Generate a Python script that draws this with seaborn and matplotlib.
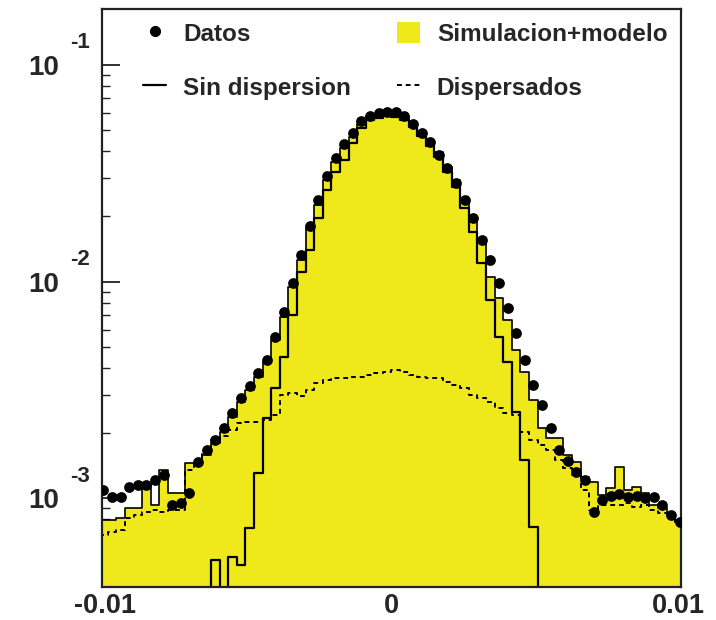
import numpy as np
import pandas as pd
import matplotlib
matplotlib.use("Agg")
import matplotlib.pyplot as plt
import seaborn as sns
from matplotlib.lines import Line2D
from matplotlib.patches import Patch
from matplotlib.ticker import FixedLocator, LogLocator, NullFormatter, FuncFormatter

# ---------------- data ----------------
bin_width = 0.0003
n_bins = 68
x_start = -0.0102
bin_edges = [x_start + bin_width * i for i in range(n_bins + 1)]
bin_centers = [0.5 * (bin_edges[i] + bin_edges[i + 1]) for i in range(n_bins)]

datos = [1.093e-3, 1.015e-3, 1.015e-3, 1.129e-3, 1.153e-3, 1.153e-3, 1.216e-3, 1.282e-3,
         9.32e-4, 9.52e-4, 1.059e-3, 1.472e-3, 1.672e-3, 1.860e-3, 2.113e-3, 2.478e-3,
         2.906e-3, 3.301e-3, 3.790e-3, 4.352e-3, 5.556e-3, 7.248e-3, 9.863e-3, 1.327e-2,
         1.807e-2, 2.382e-2, 3.074e-2, 3.722e-2, 4.319e-2, 4.855e-2, 5.513e-2, 5.815e-2,
         6.003e-2, 6.067e-2, 6.067e-2, 5.815e-2, 5.340e-2, 4.855e-2, 4.412e-2, 3.843e-2,
         3.347e-2, 2.854e-2, 2.382e-2, 1.968e-2, 1.558e-2, 1.259e-2, 9.863e-3, 7.562e-3,
         5.798e-3, 4.352e-3, 3.336e-3, 2.698e-3, 2.113e-3, 1.672e-3, 1.488e-3, 1.323e-3,
         1.216e-3, 8.65e-4, 9.83e-4, 1.026e-3, 1.048e-3, 1.015e-3, 1.026e-3, 1.004e-3,
         1.015e-3, 9.32e-4, 8.38e-4, 7.78e-4]

simulacion = [7.95e-4, 7.95e-4, 8.12e-4, 9.03e-4, 9.03e-4, 1.165e-3, 9.32e-4, 1.352e-3,
              1.059e-3, 1.059e-3, 1.457e-3, 1.426e-3, 1.586e-3, 1.801e-3, 2.025e-3, 2.374e-3,
              2.784e-3, 3.164e-3, 3.632e-3, 4.260e-3, 5.383e-3, 6.873e-3, 9.45e-3, 1.259e-2,
              1.769e-2, 2.259e-2, 2.946e-2, 3.567e-2, 4.140e-2, 4.654e-2, 5.340e-2, 5.754e-2,
              5.878e-2, 6.003e-2, 5.940e-2, 5.754e-2, 5.400e-2, 4.907e-2, 4.459e-2, 3.967e-2,
              3.383e-2, 2.946e-2, 2.332e-2, 1.886e-2, 1.509e-2, 1.051e-2, 8.41e-3, 6.657e-3,
              4.838e-3, 3.830e-3, 2.845e-3, 2.113e-3, 1.900e-3, 1.900e-3, 1.586e-3, 1.472e-3,
              1.255e-3, 1.190e-3, 1.037e-3, 1.117e-3, 1.396e-3, 1.093e-3, 1.129e-3, 1.059e-3,
              9.32e-4, 9.03e-4, 8.56e-4, 7.95e-4]

sin_dispersion = [0, 0, 0, 0, 0, 0, 0, 0, 0, 0, 0, 0, 0, 5.20e-4, 0, 5.36e-4,
                  4.93e-4, 7.30e-4, 1.310e-3, 2.350e-3, 3.233e-3, 4.493e-3, 7.02e-3, 1.108e-2,
                  1.400e-2, 1.968e-2, 2.650e-2, 3.207e-2, 3.644e-2, 4.366e-2, 5.120e-2, 5.572e-2,
                  5.691e-2, 5.815e-2, 5.754e-2, 5.572e-2, 5.174e-2, 4.704e-2, 4.228e-2, 3.762e-2,
                  3.207e-2, 2.735e-2, 2.188e-2, 1.696e-2, 1.220e-2, 8.23e-3, 5.556e-3, 4.260e-3,
                  2.504e-3, 1.504e-3, 7.38e-4, 0, 0, 0, 0, 0, 0, 0, 0, 0, 0, 0, 0, 0, 0, 0, 0, 0]

dispersados = [6.78e-4, 7.00e-4, 7.15e-4, 8.12e-4, 8.38e-4, 8.65e-4, 8.84e-4, 8.65e-4,
               8.84e-4, 8.84e-4, 1.352e-3, 1.504e-3, 1.637e-3, 1.860e-3, 1.941e-3, 2.068e-3,
               2.228e-3, 2.252e-3, 2.252e-3, 2.300e-3, 2.426e-3, 3.000e-3, 3.064e-3, 2.969e-3,
               3.164e-3, 3.408e-3, 3.518e-3, 3.594e-3, 3.594e-3, 3.632e-3, 3.632e-3, 3.710e-3,
               3.790e-3, 3.830e-3, 3.913e-3, 3.830e-3, 3.710e-3, 3.632e-3, 3.594e-3, 3.594e-3,
               3.445e-3, 3.336e-3, 3.233e-3, 3.000e-3, 2.906e-3, 2.784e-3, 2.614e-3, 2.478e-3,
               2.426e-3, 2.025e-3, 1.860e-3, 1.764e-3, 1.672e-3, 1.504e-3, 1.381e-3, 1.282e-3,
               1.093e-3, 8.84e-4, 9.32e-4, 9.32e-4, 9.32e-4, 9.52e-4, 9.13e-4, 9.32e-4,
               8.84e-4, 8.56e-4, 8.12e-4, 7.78e-4]

x_ticks = [-0.01, 0.0, 0.01]
x_tick_labels = ["-0.01", "0", "0.01"]
x_minor_ticks = [-0.005, 0.005]
y_exponents = [-1, -2, -3]

legend_labels = ["Datos", "Sin dispersion", "Simulacion+modelo", "Dispersados"]

df = pd.DataFrame({"x": bin_centers, "datos": datos, "simulacion": simulacion,
                   "sin_dispersion": sin_dispersion, "dispersados": dispersados})

# ---------------- style ----------------
sns.set_style("white")
plt.rcParams["font.family"] = ["Liberation Sans", "DejaVu Sans"]

YELLOW = "#EFE81A"

fig = plt.figure(figsize=(7.16, 6.2), dpi=100)
ax = fig.add_axes([102 / 716, 33 / 620, 579 / 716, 578 / 620])

sns.histplot(data=df, x="x", weights="simulacion", bins=bin_edges, element="step",
             fill=True, color=YELLOW, alpha=1, edgecolor="black", linewidth=1.2, ax=ax)
sns.histplot(data=df, x="x", weights="dispersados", bins=bin_edges, element="step",
             fill=False, color="black", linewidth=1.4, linestyle=(0, (2.5, 2)), ax=ax)
sns.histplot(data=df, x="x", weights="sin_dispersion", bins=bin_edges, element="step",
             fill=False, color="black", linewidth=1.6, ax=ax)
sns.scatterplot(data=df, x="x", y="datos", color="black", s=60, linewidth=0, ax=ax, zorder=5)

ax.set_yscale("log")
ax.set_xlim(-0.0101, 0.0101)
ax.set_ylim(3.9e-4, 0.181)
ax.set_xlabel("")
ax.set_ylabel("")

ax.xaxis.set_major_locator(FixedLocator(x_ticks))
ax.set_xticklabels(x_tick_labels)
ax.xaxis.set_minor_locator(FixedLocator(x_minor_ticks))
ax.yaxis.set_major_locator(FixedLocator([10.0 ** e for e in y_exponents]))
ax.yaxis.set_minor_locator(LogLocator(base=10, subs=np.arange(2, 10)))
ax.yaxis.set_minor_formatter(NullFormatter())
ax.yaxis.set_major_formatter(FuncFormatter(lambda v, p: "10"))

ax.tick_params(axis="both", which="both", direction="in", top=False, right=False,
               left=True, bottom=True, color="#222222")
ax.tick_params(axis="y", which="major", length=13, width=1.3, labelsize=20, pad=31)
ax.tick_params(axis="y", which="minor", length=6, width=1.0)
ax.tick_params(axis="x", which="major", length=13, width=1.3, labelsize=19.5, pad=4)
ax.tick_params(axis="x", which="minor", length=9, width=1.0)
for lab in ax.get_xticklabels() + ax.get_yticklabels():
    lab.set_fontweight("bold")

# exponents of the y tick labels (placed at each decade)
ytrans = ax.get_yaxis_transform()
for e in y_exponents:
    ax.annotate(str(e), xy=(0, 10.0 ** e), xycoords=ytrans, xytext=(-8.5, 16),
                textcoords="offset points", ha="right", va="center",
                fontsize=16, fontweight="bold", annotation_clip=False)

for sp in ax.spines.values():
    sp.set_linewidth(1.6)
    sp.set_color("#222222")
    sp.set_visible(True)

h_datos = Line2D([], [], marker="o", linestyle="none", color="black", markersize=7)
h_sin = Line2D([], [], color="black", linewidth=1.6)
h_sim = Patch(facecolor=YELLOW, edgecolor="none")
h_disp = Line2D([], [], color="black", linewidth=1.4, linestyle=(0, (2.5, 2)))

leg_kw = dict(frameon=False, loc="upper left", borderpad=0, borderaxespad=0,
              handlelength=0.95, handleheight=1.0, handletextpad=0.7, labelspacing=1.22,
              prop={"size": 17.5, "weight": "bold"})
leg1 = ax.legend(handles=[h_datos, h_sin], labels=legend_labels[:2],
                 bbox_to_anchor=(0.071, 0.978), **leg_kw)
ax.add_artist(leg1)
leg2 = ax.legend(handles=[h_sim, h_disp], labels=legend_labels[2:],
                 bbox_to_anchor=(0.509, 0.978), **leg_kw)

fig.savefig("out.png", dpi=100)
